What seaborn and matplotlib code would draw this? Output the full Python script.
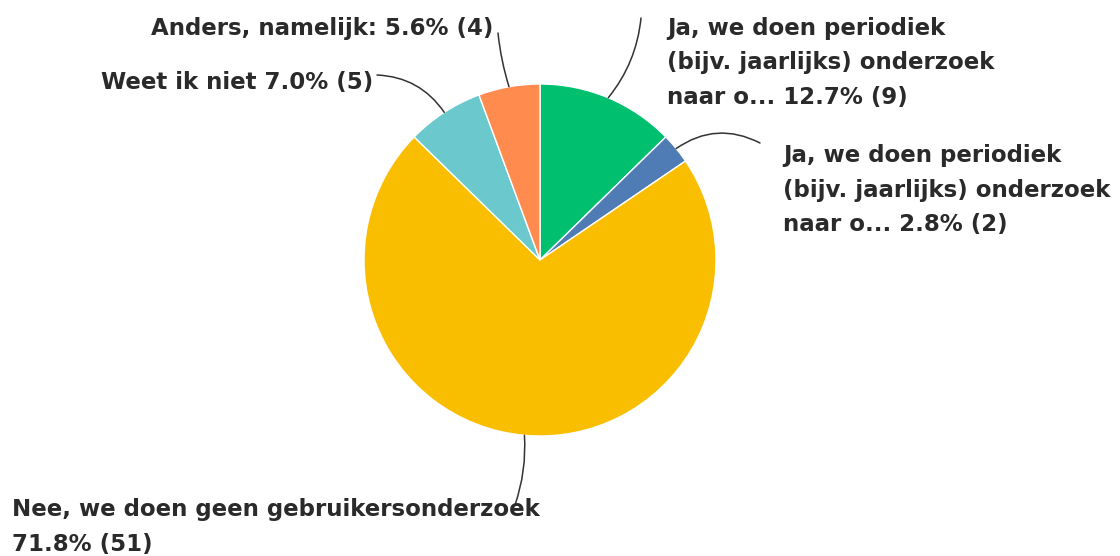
import numpy as np
import matplotlib
matplotlib.use("Agg")
import matplotlib.pyplot as plt
import seaborn as sns

# ---- data ----
labels = [
    "Ja, we doen periodiek\n(bijv. jaarlijks) onderzoek\nnaar o... 12.7% (9)",
    "Ja, we doen periodiek\n(bijv. jaarlijks) onderzoek\nnaar o... 2.8% (2)",
    "Nee, we doen geen gebruikersonderzoek\n71.8% (51)",
    "Weet ik niet 7.0% (5)",
    "Anders, namelijk: 5.6% (4)",
]
counts = [9, 2, 51, 5, 4]
colors = ["#00BF6F", "#507CB6", "#F9BE00", "#6BC8CD", "#FF8B4F"]

sns.set_theme(style="white")
plt.rcParams['font.family'] = ['DejaVu Sans']

W, H = 1120, 556
fig = plt.figure(figsize=(W / 100, H / 100), dpi=100)
ax = fig.add_axes([0, 0, 1, 1])

cx, cy, r = 540, H - 260, 176
wedges, _ = ax.pie(counts, colors=colors, startangle=90, counterclock=False,
                   center=(cx, cy), radius=r, frame=True,
                   wedgeprops=dict(edgecolor="white", linewidth=1))
ax.set_xlim(0, W)
ax.set_ylim(0, H)
ax.set_aspect("equal")
ax.axis("off")

# text layout (pixel coords from top) and leader line ends / curvature
layout = [
    dict(text=(667, 63), ha="left", end=(641, 18), rad=-0.15),
    dict(text=(783, 190), ha="left", end=(760, 143), rad=0.3),
    dict(text=(12, 527), ha="left", end=(515, 505), rad=0.1),
    dict(text=(373, 82), ha="right", end=(377, 75), rad=-0.25),
    dict(text=(493, 28), ha="right", end=(498, 33), rad=0.05),
]

txtcolor = "#2a2a2a"
for w, lab, lay in zip(wedges, labels, layout):
    ang = np.deg2rad((w.theta1 + w.theta2) / 2)
    ax_pt = (cx + r * np.cos(ang), cy + r * np.sin(ang))
    ex, ey = lay["end"]
    ax.annotate("", xy=ax_pt, xytext=(ex, H - ey),
                arrowprops=dict(arrowstyle="-", color="#333333", lw=1.1,
                                shrinkA=0, shrinkB=0,
                                connectionstyle=f"arc3,rad={lay['rad']}"))
    tx, ty = lay["text"]
    ax.text(tx, H - ty, lab, ha=lay["ha"], va="center", multialignment="left",
            fontsize=16.5, fontweight="bold", color=txtcolor, linespacing=1.65)

fig.savefig("out.png", dpi=100)
